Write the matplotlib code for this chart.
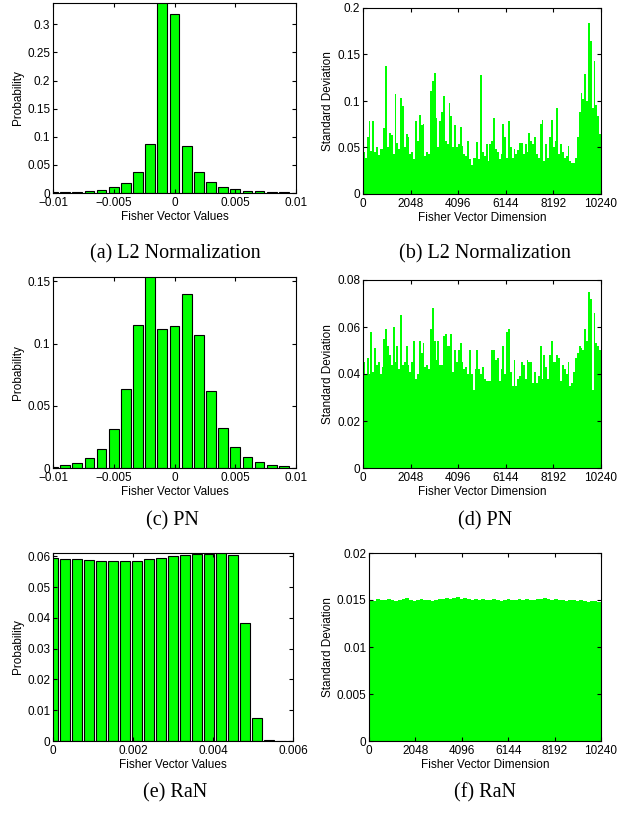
import matplotlib
matplotlib.use("Agg")
import matplotlib.pyplot as plt
import numpy as np

# %%
# Histogram data (probability per bin)
fv_centers_pm = np.linspace(-0.01, 0.01, 21)
prob_l2 = [0.001, 0.001, 0.002, 0.0035, 0.006, 0.010, 0.018, 0.037, 0.087, 0.345, 0.319,
           0.083, 0.037, 0.0195, 0.011, 0.007, 0.004, 0.003, 0.002, 0.001, 0.0005]
prob_pn = [0.001, 0.0024, 0.0043, 0.0078, 0.015, 0.0315, 0.0637, 0.115, 0.16, 0.1116, 0.1142,
           0.1395, 0.1067, 0.0618, 0.0325, 0.0167, 0.0086, 0.0046, 0.0027, 0.0019, 0.0]
fv_centers_ran = np.linspace(0, 0.006, 21)
prob_ran = [0.0594, 0.0591, 0.059, 0.0588, 0.0586, 0.0586, 0.0584, 0.0584, 0.059, 0.0594, 0.060,
            0.0603, 0.0607, 0.0607, 0.0612, 0.0603, 0.0385, 0.0076, 0.0002, 0.0, 0.0]

# Standard deviation per dimension (read in blocks of 80 dims)
std_l2 = [0.045, 0.039, 0.061, 0.078, 0.046, 0.078, 0.045, 0.050, 0.042, 0.048, 0.048, 0.071,
          0.138, 0.050, 0.066, 0.063, 0.043, 0.108, 0.055, 0.048, 0.103, 0.095, 0.050, 0.064,
          0.061, 0.043, 0.045, 0.038, 0.079, 0.057, 0.085, 0.074, 0.075, 0.041, 0.045, 0.043,
          0.111, 0.121, 0.130, 0.082, 0.050, 0.079, 0.088, 0.105, 0.057, 0.054, 0.098, 0.084,
          0.050, 0.074, 0.050, 0.054, 0.072, 0.052, 0.043, 0.041, 0.057, 0.038, 0.031, 0.039,
          0.039, 0.056, 0.038, 0.128, 0.045, 0.041, 0.054, 0.036, 0.054, 0.057, 0.082, 0.048,
          0.045, 0.038, 0.043, 0.075, 0.061, 0.039, 0.079, 0.050, 0.039, 0.048, 0.043, 0.047,
          0.055, 0.055, 0.043, 0.054, 0.045, 0.066, 0.057, 0.054, 0.061, 0.043, 0.039, 0.075,
          0.080, 0.036, 0.054, 0.039, 0.061, 0.080, 0.050, 0.057, 0.092, 0.043, 0.054, 0.045,
          0.039, 0.041, 0.052, 0.036, 0.033, 0.033, 0.039, 0.061, 0.088, 0.109, 0.102, 0.129,
          0.100, 0.184, 0.165, 0.093, 0.143, 0.096, 0.084, 0.064]
std_pn = [0.045, 0.040, 0.047, 0.040, 0.058, 0.041, 0.051, 0.044, 0.045, 0.040, 0.043, 0.055,
          0.059, 0.052, 0.048, 0.044, 0.060, 0.045, 0.052, 0.042, 0.065, 0.044, 0.045, 0.052,
          0.044, 0.041, 0.045, 0.054, 0.038, 0.040, 0.054, 0.049, 0.053, 0.043, 0.044, 0.042,
          0.059, 0.068, 0.054, 0.046, 0.054, 0.044, 0.044, 0.056, 0.057, 0.052, 0.052, 0.057,
          0.041, 0.050, 0.045, 0.050, 0.053, 0.045, 0.042, 0.043, 0.040, 0.050, 0.040, 0.033,
          0.042, 0.050, 0.042, 0.040, 0.043, 0.038, 0.037, 0.037, 0.037, 0.050, 0.050, 0.046,
          0.047, 0.037, 0.042, 0.052, 0.040, 0.058, 0.059, 0.041, 0.035, 0.046, 0.035, 0.038,
          0.039, 0.045, 0.044, 0.038, 0.046, 0.045, 0.045, 0.036, 0.041, 0.036, 0.039, 0.052,
          0.038, 0.048, 0.043, 0.038, 0.048, 0.054, 0.045, 0.045, 0.048, 0.047, 0.037, 0.044,
          0.042, 0.040, 0.045, 0.035, 0.036, 0.041, 0.047, 0.049, 0.052, 0.051, 0.050, 0.059,
          0.054, 0.075, 0.072, 0.033, 0.066, 0.053, 0.052, 0.050]
std_ran = [0.0150, 0.0149, 0.0151, 0.0150, 0.0150, 0.0151, 0.0150, 0.0149, 0.0150, 0.0151,
           0.0152, 0.0150, 0.0149, 0.0150, 0.0151, 0.0150, 0.0150, 0.0149, 0.0150, 0.0151,
           0.0151, 0.0152, 0.0151, 0.0152, 0.0153, 0.0151, 0.0152, 0.0151, 0.0150, 0.0151,
           0.0150, 0.0151, 0.0150, 0.0150, 0.0151, 0.0150, 0.0149, 0.0150, 0.0151, 0.0150,
           0.0150, 0.0151, 0.0150, 0.0151, 0.0150, 0.0150, 0.0151, 0.0151, 0.0152, 0.0151,
           0.0150, 0.0151, 0.0150, 0.0150, 0.0149, 0.0150, 0.0150, 0.0149, 0.0150, 0.0149,
           0.0148, 0.0149, 0.0149, 0.0148]

dim_ticks = [0, 2048, 4096, 6144, 8192, 10240]
captions = ['(a) L2 Normalization', '(b) L2 Normalization', '(c) PN', '(d) PN', '(e) RaN', '(f) RaN']

# %%
plt.rcParams['font.family'] = ['Liberation Sans', 'DejaVu Sans']
plt.rcParams['font.size'] = 8.5
plt.rcParams['axes.linewidth'] = 0.8
plt.rcParams['xtick.direction'] = 'in'
plt.rcParams['ytick.direction'] = 'in'
plt.rcParams['xtick.top'] = True
plt.rcParams['ytick.right'] = True
plt.rcParams['xtick.major.size'] = 3
plt.rcParams['ytick.major.size'] = 3
plt.rcParams['xtick.major.pad'] = 3
plt.rcParams['ytick.major.pad'] = 2

W, H = 627, 813
fig = plt.figure(figsize=(W / 100, H / 100), dpi=100)


def box(l, t, r, b):
    return [l / W, 1 - b / H, (r - l) / W, (b - t) / H]


def fmt(v):
    s = ('%.4f' % v).rstrip('0').rstrip('.')
    return s.replace('-', '\u2212')


def hist_panel(rect, centers, probs, xticks, yticks, ytop):
    ax = fig.add_axes(rect)
    step = centers[1] - centers[0]
    ax.bar(centers, probs, width=0.8 * step, color='#00ff00', edgecolor='black', linewidth=0.8)
    ax.set_xlim(xticks[0], xticks[-1])
    ax.set_ylim(0, ytop)
    ax.set_xticks(xticks)
    ax.set_xticklabels([fmt(v) for v in xticks])
    ax.set_yticks(yticks)
    ax.set_yticklabels([fmt(v) for v in yticks])
    ax.set_xlabel('Fisher Vector Values', labelpad=1.5)
    ax.set_ylabel('Probability', labelpad=2)
    return ax


def std_panel(rect, values, yticks):
    ax = fig.add_axes(rect)
    step = 10240 / len(values)
    dims = np.arange(len(values)) * step + step / 2
    ax.bar(dims, values, width=step, color='#00ff00', linewidth=0)
    ax.set_xlim(0, 10240)
    ax.set_ylim(yticks[0], yticks[-1])
    ax.set_xticks(dim_ticks)
    ax.set_yticks(yticks)
    ax.set_yticklabels([fmt(v) for v in yticks])
    ax.set_xlabel('Fisher Vector Dimension', labelpad=1.5)
    ax.set_ylabel('Standard Deviation', labelpad=2)
    return ax


hist_panel(box(53, 3, 296, 193), fv_centers_pm, prob_l2,
           [-0.01, -0.005, 0, 0.005, 0.01], [0, 0.05, 0.1, 0.15, 0.2, 0.25, 0.3], 0.338)
std_panel(box(363, 8, 601, 194), std_l2, [0, 0.05, 0.1, 0.15, 0.2])
hist_panel(box(53, 277, 296, 468), fv_centers_pm, prob_pn,
           [-0.01, -0.005, 0, 0.005, 0.01], [0, 0.05, 0.1, 0.15], 0.1535)
std_panel(box(363, 280, 601, 468), std_pn, [0, 0.02, 0.04, 0.06, 0.08])
hist_panel(box(53, 553, 293, 741), fv_centers_ran, prob_ran,
           [0, 0.002, 0.004, 0.006], [0, 0.01, 0.02, 0.03, 0.04, 0.05, 0.06], 0.0611)
std_panel(box(369, 553, 601, 741), std_ran, [0, 0.005, 0.01, 0.015, 0.02])

# captions under each panel
cap_pos = [(175, 254), (485, 254), (172, 521), (485, 521), (175, 793), (485, 793)]
for (cx, cy), text in zip(cap_pos, captions):
    fig.text(cx / W, 1 - cy / H, text, ha='center', va='center',
             family='Liberation Serif', fontsize=14.5)

fig.savefig('out.png', dpi=100)
